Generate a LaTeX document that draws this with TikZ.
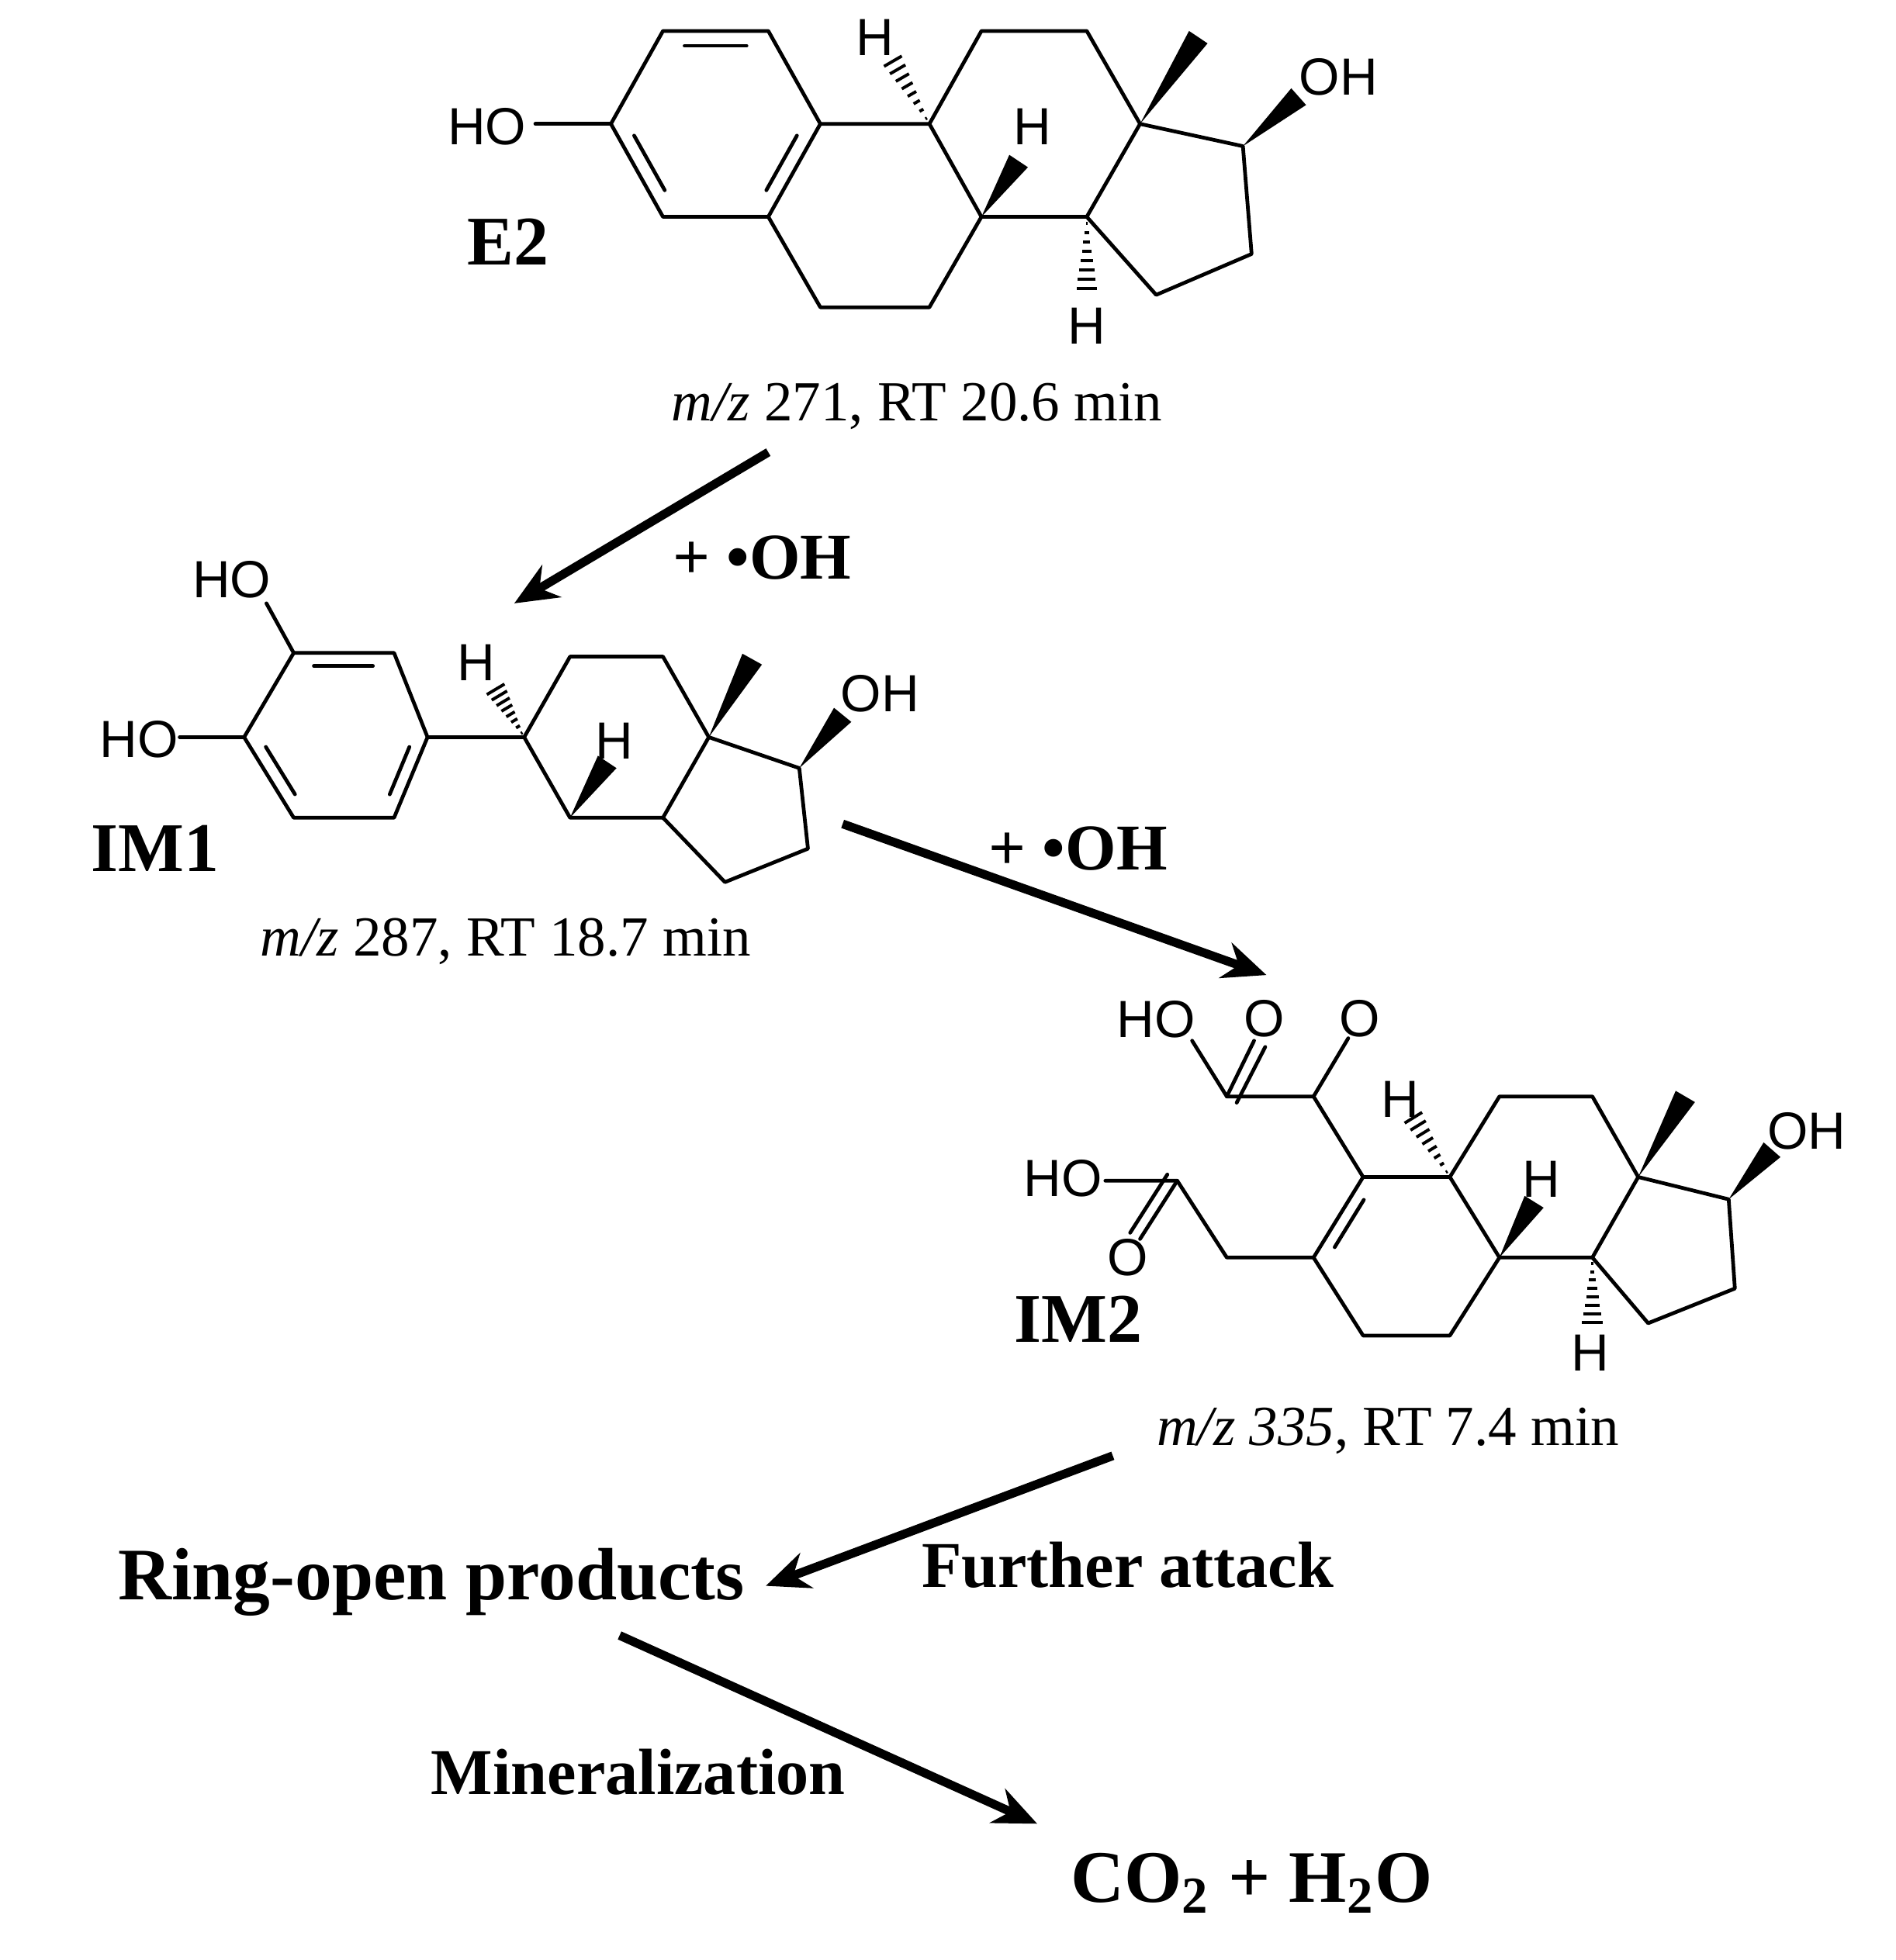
\documentclass[tikz,border=0pt]{standalone}
\usepackage{fontspec}
\setmainfont{Liberation Serif}
\newfontfamily\atomf{Liberation Sans}
\usetikzlibrary{calc,arrows.meta}
\tikzset{
 bond/.style={line width=0.85pt,line cap=round,line join=round},
 atom/.style={font=\atomf\fontsize{12}{12}\selectfont,inner sep=0pt},
 lbl/.style={font=\bfseries\fontsize{16}{16}\selectfont,inner sep=0pt},
 info/.style={font=\fontsize{13}{13}\selectfont,inner sep=0pt},
 arr/.style={line width=2pt,-{Stealth[length=0.35cm,width=0.3cm]}}
}
\newcommand{\mywedge}[2]{\fill ($(#1)$) -- ($(#2)!0.09cm!90:(#1)$) -- ($(#2)!0.09cm!-90:(#1)$) -- cycle;}
\newcommand{\myhash}[2]{\foreach \t in {0.08,0.2,...,1.0}{\coordinate (hp) at ($(#1)!\t!(#2)$);
  \draw[line width=0.7pt] ($(hp)!\t*0.09cm!90:(#2)$) -- ($(hp)!\t*0.09cm!-90:(#2)$);}}
\newcommand{\dbl}[3]{\draw[bond] ($(#1)!0.15!(#2)!0.16!(#3)$) -- ($(#2)!0.15!(#1)!0.16!(#3)$);}
\begin{document}
\begin{tikzpicture}[x=0.01cm,y=-0.01cm]
\useasboundingbox (0,0) rectangle (1530,1582);
% ---------- E2 ----------
\coordinate (a1) at (535,25); \coordinate (a2) at (620,25); \coordinate (a3) at (662,100);
\coordinate (a4) at (620,175); \coordinate (a5) at (535,175); \coordinate (a6) at (493,100);
\coordinate (ac) at (577,100);
\coordinate (b2) at (750,100); \coordinate (b3) at (792,175); \coordinate (b4) at (750,248); \coordinate (b5) at (662,248);
\coordinate (c2) at (792,25); \coordinate (c3) at (877,25); \coordinate (c4) at (920,100); \coordinate (c5) at (877,175);
\coordinate (d2) at (1003,118); \coordinate (d3) at (1010,205); \coordinate (d4) at (933,238);
\draw[bond] (a1)--(a2)--(a3)--(a4)--(a5)--(a6)--cycle;
\dbl{a1}{a2}{ac}\dbl{a6}{a5}{ac}\dbl{a3}{a4}{ac}
\draw[bond] (a3)--(b2)--(b3)--(b4)--(b5)--(a4);
\draw[bond] (b2)--(c2)--(c3)--(c4)--(c5)--(b3);
\draw[bond] (c4)--(d2)--(d3)--(d4)--(c5);
\draw[bond] (a6)--(432,100);
\node[atom] (e2ho) at (393,102) {HO};
\mywedge{c4}{967,30}
\mywedge{d2}{1048,78}
\node[atom] (e2oh) at (1080,62) {OH};
\myhash{b2}{718,45}
\node[atom] (e2h1) at (706,30) {H};
\mywedge{b3}{822,130}
\node[atom] (e2h2) at (833,102) {H};
\myhash{c5}{877,238}
\node[atom] (e2h3) at (877,263) {H};
\node[lbl] (e2) at (410,195) {E2};
\node[info] (e2i) at (740,328) {\textit{m/z} 271, RT 20.6 min};
% ---------- arrow 1 ----------
\coordinate (s1) at (620,365); \coordinate (t1) at (415,487);
\draw[arr] (s1)--(t1);
\node[lbl,font=\bfseries\fontsize{15}{15}\selectfont] (oh1) at (615,450) {+ \textbullet OH};
% ---------- IM1 ----------
\coordinate (p1) at (237,527); \coordinate (p2) at (318,527); \coordinate (p3) at (345,595);
\coordinate (p4) at (318,660); \coordinate (p5) at (237,660); \coordinate (p6) at (197,595);
\coordinate (pc) at (275,593);
\draw[bond] (p1)--(p2)--(p3)--(p4)--(p5)--(p6)--cycle;
\dbl{p1}{p2}{pc}\dbl{p6}{p5}{pc}\dbl{p3}{p4}{pc}
\draw[bond] (p1)--(215,487); \node[atom] (i1ho1) at (187,468) {HO};
\draw[bond] (p6)--(145,595); \node[atom] (i1ho2) at (112,597) {HO};
\coordinate (q1) at (423,595); \coordinate (q2) at (460,530); \coordinate (q3) at (535,530);
\coordinate (q4) at (572,595); \coordinate (q5) at (535,660); \coordinate (q6) at (460,660);
\coordinate (r2) at (645,620); \coordinate (r3) at (652,685); \coordinate (r4) at (585,712);
\draw[bond] (p3)--(q1);
\draw[bond] (q1)--(q2)--(q3)--(q4)--(q5)--(q6)--cycle;
\draw[bond] (q4)--(r2)--(r3)--(r4)--(q5);
\myhash{q1}{398,553}
\node[atom] (i1h1) at (384,535) {H};
\mywedge{q6}{490,615}
\node[atom] (i1h2) at (496,598) {H};
\mywedge{q4}{607,532}
\mywedge{r2}{680,577}
\node[atom] (i1oh) at (710,560) {OH};
\node[lbl] (im1) at (125,685) {IM1};
\node[info] (im1i) at (408,760) {\textit{m/z} 287, RT 18.7 min};
% ---------- arrow 2 ----------
\coordinate (s2) at (680,665); \coordinate (t2) at (1022,787);
\draw[arr] (s2)--(t2);
\node[lbl,font=\bfseries\fontsize{15}{15}\selectfont] (oh2) at (870,685) {+ \textbullet OH};
% ---------- IM2 ----------
\coordinate (u1) at (1100,950); \coordinate (u2) at (1170,950); \coordinate (u3) at (1210,1015);
\coordinate (u4) at (1170,1078); \coordinate (u5) at (1100,1078); \coordinate (u6) at (1060,1015);
\coordinate (uc) at (1135,1014);
\coordinate (v2) at (1210,885); \coordinate (v3) at (1285,885); \coordinate (v4) at (1322,950); \coordinate (v5) at (1285,1015);
\coordinate (w2) at (1395,968); \coordinate (w3) at (1400,1040); \coordinate (w4) at (1330,1068);
\draw[bond] (u1)--(u2)--(u3)--(u4)--(u5)--(u6)--cycle;
\dbl{u1}{u6}{uc}
\draw[bond] (u2)--(v2)--(v3)--(v4)--(v5)--(u3);
\draw[bond] (v4)--(w2)--(w3)--(w4)--(v5);
\myhash{u2}{1138,898}
\node[atom] (i2h1) at (1130,887) {H};
\mywedge{u3}{1238,970}
\node[atom] (i2h2) at (1244,952) {H};
\mywedge{v4}{1360,885}
\mywedge{w2}{1430,928}
\node[atom] (i2oh) at (1458,913) {OH};
\myhash{v5}{1285,1072}
\node[atom] (i2h3) at (1283,1092) {H};
% upper substituents
\coordinate (k1) at (1060,885); \coordinate (k2) at (990,885);
\draw[bond] (u1)--(k1)--(k2);
\draw[bond] (k1)--(1088,838);
\node[atom] (o1) at (1097,822) {O};
\draw[bond] (k2)--(1012,840); \draw[bond] (998,890)--(1021,845);
\node[atom] (o2) at (1020,822) {O};
\draw[bond] (k2)--(962,840);
\node[atom] (ho3) at (933,823) {HO};
% lower substituents
\coordinate (m1) at (990,1015); \coordinate (m2) at (950,953);
\draw[bond] (u6)--(m1)--(m2)--(892,953);
\node[atom] (ho4) at (858,951) {HO};
\draw[bond] (m2)--(920,1000); \draw[bond] (942,948)--(912,995);
\node[atom] (o4) at (910,1015) {O};
\node[lbl] (im2) at (870,1065) {IM2};
\node[info] (im2i) at (1120,1155) {\textit{m/z 335}, RT 7.4 min};
% ---------- bottom ----------
\coordinate (s3) at (898,1175); \coordinate (t3) at (618,1280);
\draw[arr] (s3)--(t3);
\node[lbl,font=\bfseries\fontsize{15}{15}\selectfont] (fa) at (910,1263) {Further attack};
\node[lbl,font=\bfseries\fontsize{17}{17}\selectfont] (rop) at (348,1277) {Ring-open products};
\coordinate (s4) at (500,1320); \coordinate (t4) at (837,1472);
\draw[arr] (s4)--(t4);
\node[lbl,font=\bfseries\fontsize{15}{15}\selectfont] (min) at (515,1430) {Mineralization};
\node[lbl,font=\bfseries\fontsize{17}{17}\selectfont] (co2) at (1010,1520) {CO\textsubscript{2} + H\textsubscript{2}O};
\end{tikzpicture}
\end{document}
